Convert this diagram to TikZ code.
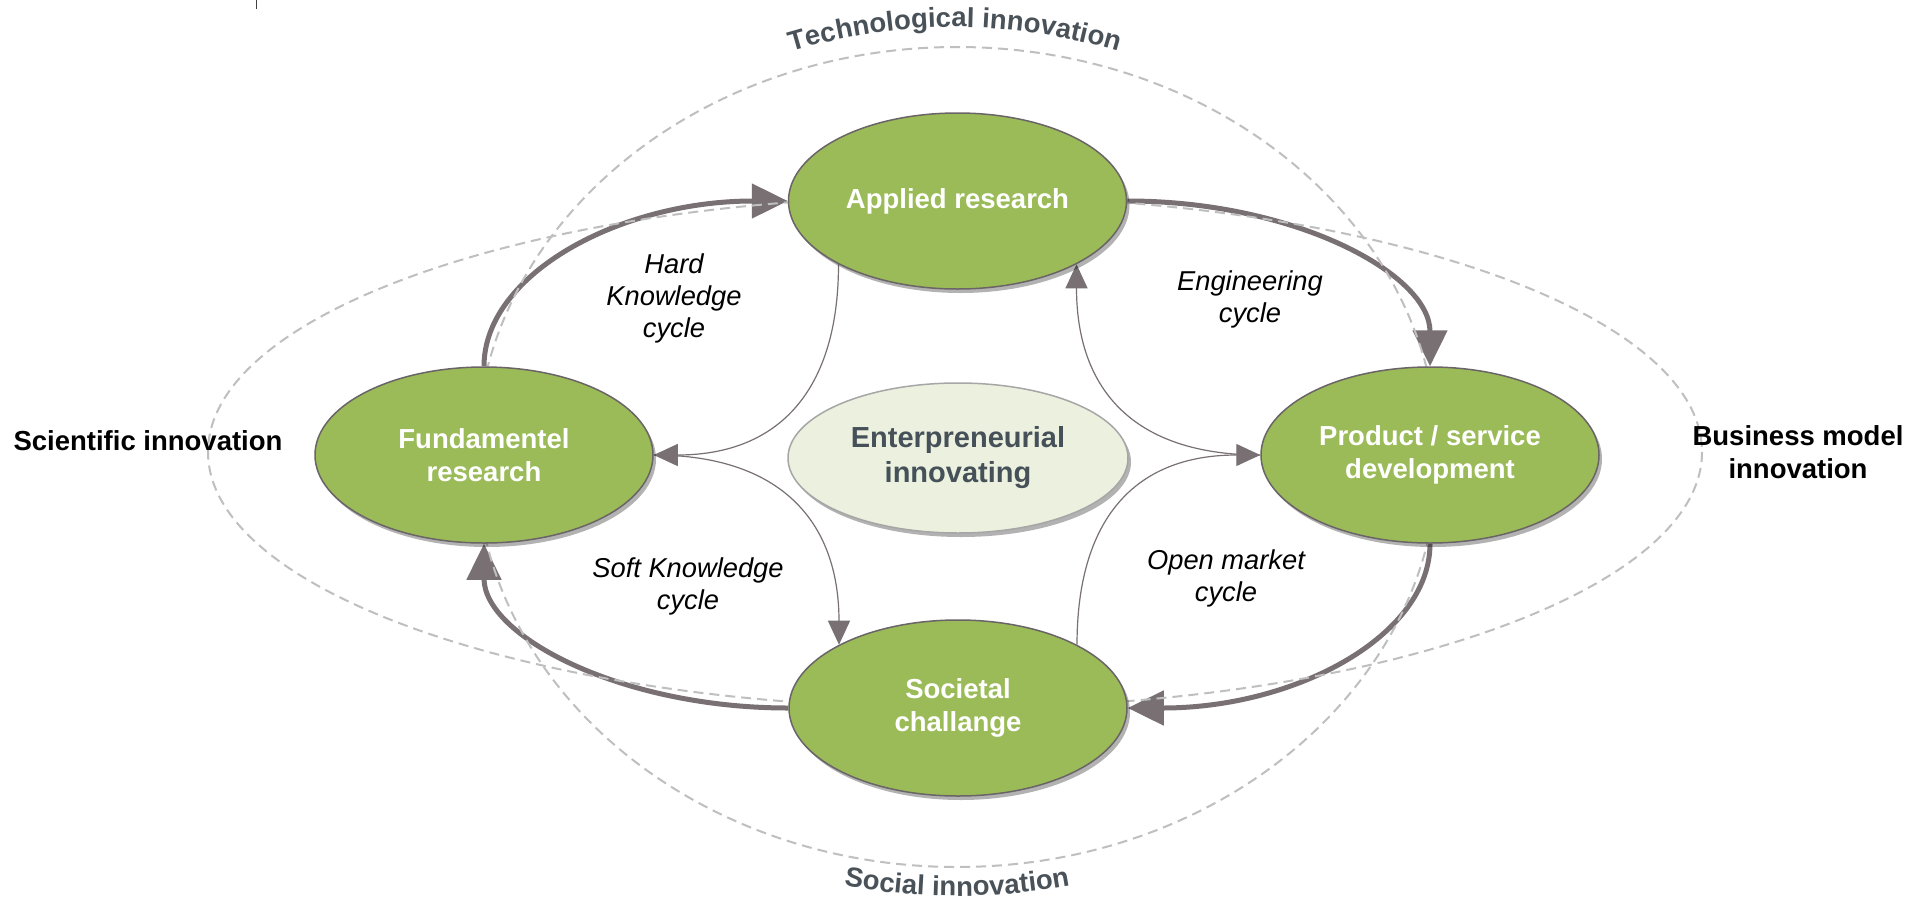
\documentclass[tikz,border=0pt]{standalone}
\usepackage{fontspec}
\setmainfont{Liberation Sans}
\usetikzlibrary{shapes.geometric,arrows.meta,shadows,decorations.text}
\definecolor{gfill}{HTML}{9BBB59}
\definecolor{gborder}{HTML}{6B6467}
\definecolor{arrowc}{HTML}{787073}
\definecolor{dashc}{HTML}{BFBFBF}
\definecolor{cfill}{HTML}{EBF1DE}
\definecolor{cborder}{HTML}{A6A6A6}
\definecolor{ctext}{HTML}{465059}
\definecolor{ltext}{HTML}{4A5259}
\pgfdeclarelayer{bgl}
\pgfdeclarelayer{midl}
\pgfsetlayers{bgl,midl,main}
\newcommand\nodefnt{\fontsize{27.5}{33}\selectfont\bfseries}
\newcommand\cyclefnt{\fontsize{27.3}{32}\selectfont\itshape}
\newcommand\curvefnt{\fontsize{27.5}{30}\selectfont\bfseries}
\begin{document}
\begin{tikzpicture}[x=1pt,y=-1pt,
  stage/.style={ellipse, draw=gborder, line width=1.5pt, fill=gfill,
    minimum width=338pt, minimum height=176pt, inner sep=0pt,
    text=white, font=\nodefnt, align=center,
    drop shadow={shadow xshift=3pt, shadow yshift=-4pt, opacity=0.3, fill=black}},
  core/.style={ellipse, draw=cborder, line width=1.5pt, fill=cfill,
    minimum width=340pt, minimum height=150pt, inner sep=0pt,
    text=ctext, font=\fontsize{29}{35}\selectfont\bfseries, align=center,
    drop shadow={shadow xshift=3pt, shadow yshift=-4pt, opacity=0.3, fill=black}},
  cyclelabel/.style={font=\cyclefnt, align=center, inner sep=0pt},
  sidelabel/.style={font=\nodefnt, align=center, inner sep=0pt},
  bigarrow/.style={draw=arrowc, line width=5pt, -{Triangle[length=36pt,width=34pt]}},
  smallarrow/.style={draw=arrowc, line width=1.2pt, -{Triangle[length=24pt,width=22pt]}},
  innov/.style={draw=dashc, line width=2pt, dash pattern=on 10pt off 6pt},
]
\useasboundingbox (0,0) rectangle (1909,900);

% main nodes
\node[stage] (app) at (957.5,201) {Applied research};
\node[stage] (fund) at (484,455) {Fundamentel\\research};
\node[stage] (prod) at (1430,455) {Product / service\\development};
\node[stage] (soc) at (958,708) {Societal\\challange};
\node[core] (ent) at (958,458) {Enterpreneurial\\innovating};

% cycle labels
\node[cyclelabel] (hard) at (674,298) {Hard\\Knowledge\\cycle};
\node[cyclelabel] (eng) at (1250,299) {Engineering\\cycle};
\node[cyclelabel] (open) at (1226,578) {Open market\\cycle};
\node[cyclelabel] (soft) at (688,586) {Soft Knowledge\\cycle};

% side labels
\node[sidelabel, anchor=base] (sci) at (148,450) {Scientific innovation};
\node[sidelabel] (bus) at (1798,452) {Business model\\innovation};

% curved labels
\path[decorate, decoration={text along path,
    text={|\curvefnt|Technological innovation}, text align=center, text color=ltext}]
  (760,62) .. controls (890,15.3) and (1020,15.3) .. (1150,62);
\path[decorate, decoration={text along path,
    text={|\curvefnt|Social innovation}, text align=center, text color=ltext}]
  (820,881) .. controls (911,901) and (1003,901) .. (1094,881);

% small tick at the top
\draw[black!75, line width=1pt] (256,0) -- (256,9);

\begin{pgfonlayer}{bgl}
  \fill[white] (0,0) rectangle (1909,900);
  % thick cycle arrows
  \draw[bigarrow] (fund.north) .. controls +(0,-92) and +(-168,0) .. (app.west);
  \draw[bigarrow] (app.east) .. controls +(168,0) and +(0,-92) .. (prod.north);
  \draw[bigarrow] (prod.south) .. controls +(0,92) and +(168,0) .. (soc.east);
  \draw[bigarrow] (soc.west) .. controls +(-168,0) and +(0,92) .. (fund.south);
  % thin inner arrows
  \draw[smallarrow] (app.208) .. controls +(0,125) and +(126,0) .. (fund.east);
  \draw[smallarrow] (fund.east) .. controls +(126,0) and +(0,-124) .. (soc.152);
  \draw[smallarrow] (soc.28) .. controls +(0,-124) and +(-127,0) .. (prod.west);
  \draw[smallarrow] (prod.west) .. controls +(-127,0) and +(0,125) .. (app.332);
\end{pgfonlayer}

\begin{pgfonlayer}{midl}
  \draw[innov] (957,457) ellipse [x radius=481, y radius=410];
  \draw[innov] (955,452) ellipse [x radius=747, y radius=256];
\end{pgfonlayer}
\end{tikzpicture}
\end{document}
